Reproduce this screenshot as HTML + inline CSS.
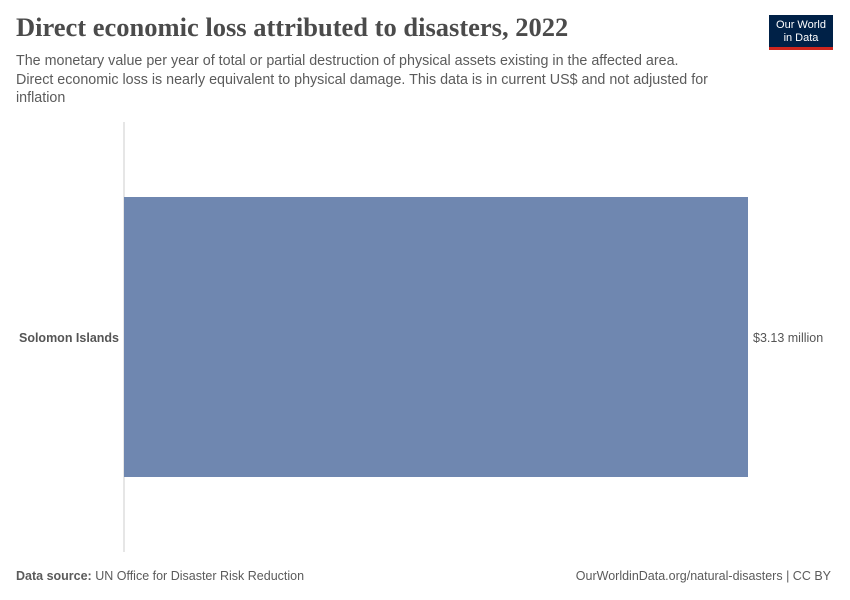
<!DOCTYPE html>
<html><head><meta charset="utf-8"><style>
body{margin:0;width:850px;height:600px;background:#fff;font-family:"Liberation Sans",sans-serif;position:relative;overflow:hidden}
.t{position:absolute;left:16px;top:12px;font-family:"Liberation Serif",serif;font-size:26.5px;color:#4b4b4b;font-weight:bold;letter-spacing:0px}
.s{position:absolute;left:16px;top:52px;width:780px;font-size:14.3px;line-height:18.5px;color:#5b5b5b}
.logo{position:absolute;left:769px;top:15px;width:64px;height:35px;background:#002147;border-bottom:3px solid #ce261e;color:#fff;font-size:11px;line-height:12.5px;text-align:center;padding-top:4px;box-sizing:border-box}
.f{position:absolute;top:569px;font-size:12.5px;color:#5b5b5b}
</style></head><body>
<div class="t">Direct economic loss attributed to disasters, 2022</div>
<div class="s">The monetary value per year of total or partial destruction of physical assets existing in the affected area.<br>Direct economic loss is nearly equivalent to physical damage. This data is in current US$ and not adjusted for<br>inflation</div>
<div class="logo">Our World<br>in Data</div>
<svg id="chart" width="850" height="600" style="position:absolute;left:0;top:0"></svg>
<div class="f" style="left:16px"><b>Data source:</b> UN Office for Disaster Risk Reduction</div>
<div class="f" style="right:19px">OurWorldinData.org/natural-disasters | CC BY</div>
<script>
const categories=["Solomon Islands"];
const values=[3.13];
const valueLabels=["$3.13 million"];
const NS="http://www.w3.org/2000/svg";
const svg=document.getElementById('chart');
const x0=124,x1=748,yTop=197,bandH=280;
const xs=v=>x0+(v/Math.max(...values))*(x1-x0);
function mk(t,a){const e=document.createElementNS(NS,t);for(const k in a)e.setAttribute(k,a[k]);svg.appendChild(e);return e;}
const ax=mk('line',{x1:x0,x2:x0,y1:122,y2:552,stroke:'#ccc','stroke-width':1});


categories.forEach((c,i)=>{
  const y=yTop+i*bandH;
  const r=mk('rect',{x:x0,y:y,width:xs(values[i])-x0,height:bandH,fill:'#6f87b0'});
  
  
  const l=mk('text',{x:119,y:y+bandH/2+5,'text-anchor':'end','font-size':12.5,'font-weight':'bold',fill:'#555','font-family':'Liberation Sans,sans-serif'});
  l.textContent=c;
  
  
  const v=mk('text',{x:xs(values[i])+5,y:y+bandH/2+5,'font-size':12.5,fill:'#555','font-family':'Liberation Sans,sans-serif'});
  v.textContent=valueLabels[i];
  
  
});
</script>
</body></html>
